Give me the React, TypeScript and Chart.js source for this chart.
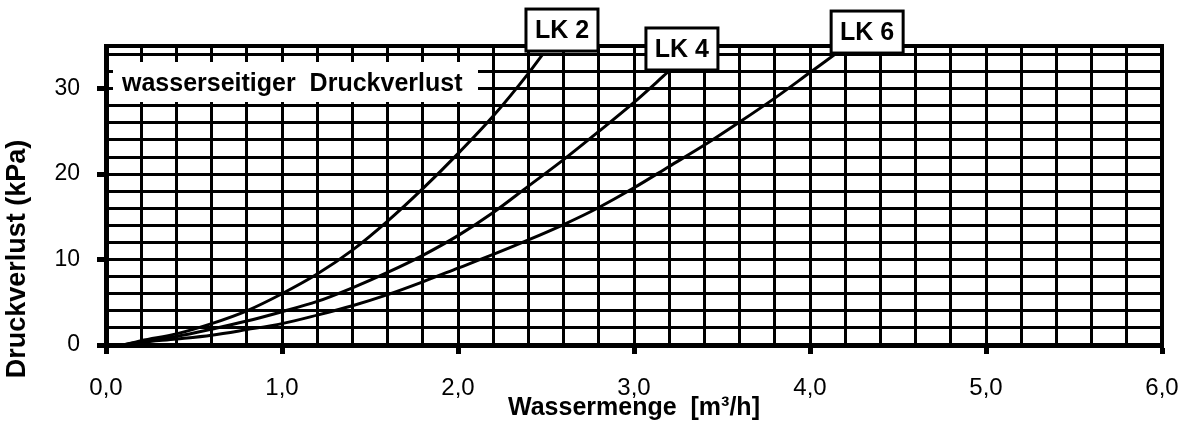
import React, { useEffect, useRef } from 'react';
import { Chart, registerables } from 'chart.js';

Chart.register(...registerables);

// ---- data ----
const seriesNames = ['LK 2', 'LK 4', 'LK 6'];

const lk2X = [0.1, 0.2, 0.4, 0.6, 0.8, 1.0, 1.2, 1.4, 1.6, 1.8, 2.0, 2.2, 2.4, 2.48];
const lk2Y = [0.0, 0.5, 1.3, 2.5, 4.0, 6.0, 8.3, 11.1, 14.5, 18.3, 22.4, 26.8, 31.8, 34.0];

const lk4X = [0.1, 0.2, 0.4, 0.6, 0.8, 1.0, 1.2, 1.4, 1.6, 1.8, 2.0, 2.2, 2.4, 2.6, 2.8, 3.0, 3.19];
const lk4Y = [0.0, 0.4, 1.0, 1.85, 2.8, 3.9, 5.1, 6.7, 8.5, 10.5, 12.8, 15.5, 18.6, 21.7, 25.0, 28.4, 31.9];

const lk6X = [0.1, 0.2, 0.4, 0.6, 0.8, 1.0, 1.2, 1.4, 1.6, 1.8, 2.0, 2.2, 2.4, 2.6, 2.8, 3.0, 3.2, 3.4, 3.6, 3.8, 4.0, 4.14];
const lk6Y = [0.0, 0.3, 0.7, 1.15, 1.8, 2.5, 3.5, 4.6, 5.9, 7.4, 9.0, 10.6, 12.3, 14.1, 16.1, 18.4, 20.9, 23.4, 26.1, 28.9, 31.9, 34.0];

const xMin = 0;
const xMax = 6;
const xStep = 0.2;
const yMin = 0;
const yMax = 35;
const yStep = 2;
const yLabelEvery = 10;

const xTitle = 'Wassermenge  [m³/h]';
const yTitle = 'Druckverlust (kPa)';
const noteText = 'wasserseitiger  Druckverlust';

// ---- styling / layout (kept apart from the data) ----
const FONT = '"Liberation Sans", Arial, Helvetica, sans-serif';
const labelOffsets = [
  { dx: -16.5, dy: -45.5 },
  { dx: -21.5, dy: -44.5 },
  { dx: -3.5, dy: -43.5 },
];
const LABEL_W = 72;
const LABEL_H = 42;

function toPoints(xs: number[], ys: number[]) {
  return xs.map((x, i) => ({ x, y: ys[i] }));
}

const isWhole = (v: number) => Math.abs(v - Math.round(v)) < 1e-6;

export default function App() {
  const ref = useRef<HTMLCanvasElement>(null);

  useEffect(() => {
    const canvas = ref.current;
    if (!canvas) return;

    const framePlugin = {
      id: 'framePlugin',
      beforeDatasetsDraw(chart: any) {
        const { ctx, chartArea } = chart;
        const { left, right, top, bottom } = chartArea;
        ctx.save();
        // note box (white, no border)
        ctx.fillStyle = '#fff';
        ctx.fillRect(left + 7, top + 16, 365, 40);
        ctx.fillStyle = '#000';
        ctx.font = `bold 25px ${FONT}`;
        ctx.textAlign = 'left';
        ctx.textBaseline = 'middle';
        ctx.fillText(noteText, left + 16, top + 38);
        // top and right frame
        ctx.strokeStyle = '#000';
        ctx.lineWidth = 4;
        ctx.beginPath();
        ctx.moveTo(left, top);
        ctx.lineTo(right, top);
        ctx.lineTo(right, bottom);
        ctx.stroke();
        ctx.restore();
      },
      afterDatasetsDraw(chart: any) {
        const { ctx } = chart;
        ctx.save();
        chart.data.datasets.forEach((ds: any, i: number) => {
          const meta = chart.getDatasetMeta(i);
          const last = meta.data[meta.data.length - 1];
          const off = labelOffsets[i];
          const bx = last.x + off.dx;
          const by = last.y + off.dy;
          ctx.fillStyle = '#fff';
          ctx.fillRect(bx, by, LABEL_W, LABEL_H);
          ctx.strokeStyle = '#000';
          ctx.lineWidth = 3;
          ctx.strokeRect(bx, by, LABEL_W, LABEL_H);
          ctx.fillStyle = '#000';
          ctx.font = `bold 25px ${FONT}`;
          ctx.textAlign = 'center';
          ctx.textBaseline = 'middle';
          ctx.fillText(ds.label, bx + LABEL_W / 2, by + LABEL_H / 2 + 1);
        });
        ctx.restore();
      },
      afterDraw(chart: any) {
        const { ctx } = chart;
        ctx.save();
        ctx.translate(18, 259);
        ctx.rotate(-Math.PI / 2);
        ctx.fillStyle = '#000';
        ctx.font = `bold 27px ${FONT}`;
        ctx.textAlign = 'center';
        ctx.textBaseline = 'middle';
        ctx.fillText(yTitle, 0, 0);
        ctx.restore();
      },
    };

    const allX = [lk2X, lk4X, lk6X];
    const allY = [lk2Y, lk4Y, lk6Y];

    const chart = new Chart(canvas, {
      type: 'line',
      data: {
        datasets: seriesNames.map((name, i) => ({
          label: name,
          data: toPoints(allX[i], allY[i]),
          borderColor: '#000',
          backgroundColor: '#000',
          borderWidth: 3,
          pointRadius: 0,
          fill: false,
          cubicInterpolationMode: 'monotone' as const,
        })),
      },
      options: {
        animation: false,
        responsive: false,
        devicePixelRatio: 1,
        layout: { padding: { top: 46, right: 25, left: 0, bottom: 0 } },
        plugins: {
          legend: { display: false },
          tooltip: { enabled: false },
        },
        scales: {
          x: {
            type: 'linear',
            min: xMin,
            max: xMax,
            ticks: {
              stepSize: xStep,
              autoSkip: false,
              maxRotation: 0,
              minRotation: 0,
              padding: 20,
              color: '#000',
              font: { family: FONT, size: 24 },
              callback: (v: any) => (isWhole(Number(v)) ? Number(v).toFixed(1).replace('.', ',') : ''),
            },
            grid: {
              color: '#000',
              lineWidth: 3,
              tickLength: 9,
              tickWidth: 5,
              tickColor: (c: any) => (c.tick && isWhole(c.tick.value) ? '#000' : 'rgba(0,0,0,0)'),
            },
            border: { color: '#000', width: 5 },
            title: {
              display: true,
              text: xTitle,
              color: '#000',
              font: { family: FONT, size: 25, weight: 'bold' },
              padding: { top: 0, bottom: 0 },
            },
            afterFit: (s: any) => {
              s.height = 78;
              s.paddingLeft = 0;
              s.paddingRight = 0;
            },
          },
          y: {
            type: 'linear',
            min: yMin,
            max: yMax,
            ticks: {
              stepSize: yStep,
              includeBounds: false,
              autoSkip: false,
              padding: 17,
              color: '#000',
              font: { family: FONT, size: 23 },
              callback: (v: any) => (Number(v) % yLabelEvery === 0 ? String(v) : ''),
            },
            grid: {
              color: '#000',
              lineWidth: 3,
              tickLength: 9,
              tickWidth: 5,
              tickColor: (c: any) => (c.tick && c.tick.value % yLabelEvery === 0 ? '#000' : 'rgba(0,0,0,0)'),
            },
            border: { color: '#000', width: 5 },
            title: { display: false },
            afterFit: (s: any) => {
              s.width = 106;
              s.paddingTop = 0;
              s.paddingBottom = 0;
            },
          },
        },
      } as any,
      plugins: [framePlugin],
    });

    return () => chart.destroy();
  }, []);

  return (
    <div style={{ position: 'absolute', left: 0, top: 0, width: 1187, height: 423, background: '#fff' }}>
      <canvas ref={ref} width={1187} height={423} style={{ display: 'block', width: 1187, height: 423 }} />
    </div>
  );
}
